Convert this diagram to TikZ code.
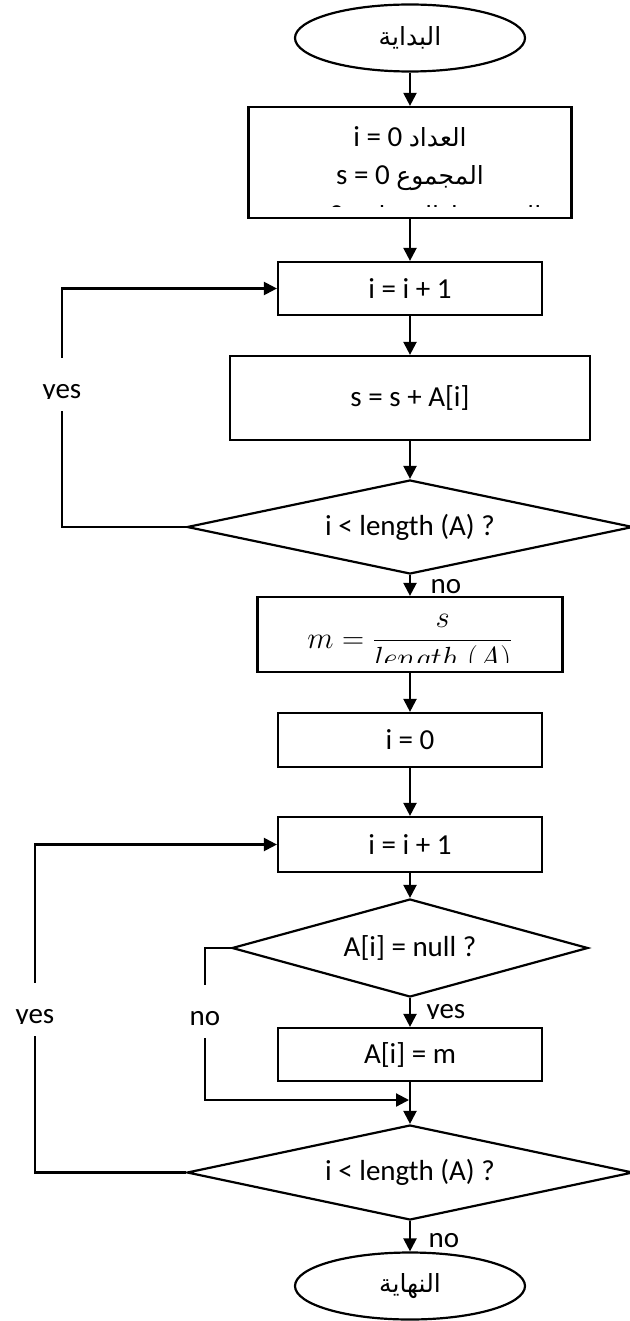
\documentclass[tikz,border=0pt]{standalone}
\usepackage{fontspec}
\setmainfont{Carlito}
\newfontfamily\arabicfont[Script=Arabic]{DejaVu Sans}
\TeXXeTstate=1
\usetikzlibrary{shapes.geometric,arrows.meta}
\newcommand\arabictext[1]{{\arabicfont\fontsize{25pt}{30pt}\selectfont\beginR#1\endR}}

\begin{document}
\begin{tikzpicture}
[x=1pt,y=-1pt,
  font=\fontsize{29pt}{35pt}\selectfont,
  boxdecorate/.style={shape=rectangle,draw,line width=2.2pt},
  diamonddecorate/.style={shape=diamond,aspect=4,inner sep=0pt,draw,line width=2.2pt},
  ovaldecorate/.style={shape=ellipse,inner sep=0pt,draw,line width=2.2pt,
    minimum width=230pt,minimum height=67pt},
  linedecorate/.style={-,line width=2.2pt},
  arrowdecorate/.style={-{Triangle[length=13pt,width=13pt]},line width=2.2pt},
  labeldecorate/.style={anchor=base,inner sep=0pt,text height=40pt,text depth=13pt}]
\useasboundingbox (0,0) rectangle (629,1321);
%% start and end
\node (start) [ovaldecorate] at (410,38) {\arabictext{البداية}};
\node (stop) [ovaldecorate] at (410,1286) {\arabictext{النهاية}};
%% initial values, text cut by the box
\node (init) [boxdecorate,minimum width=323pt,minimum height=111pt] at (410,162.5) {};
\begin{scope}
  \clip ([shift={(5pt,-5pt)}]init.north west) rectangle ([shift={(-5pt,13pt)}]init.south east);
  \foreach \linename/\y/\linetext in {
    initi/147/{i = 0 \arabictext{العداد}},
    inits/185/{s = 0 \arabictext{المجموع}},
    initm/225/{m = 0 \arabictext{المتوسط الحسابي}}}
  {
    \node (\linename) [anchor=base] at (410,\y) {\linetext};
  }
\end{scope}
%% process boxes
\foreach \boxname/\y/\boxwidth/\boxheight/\boxtext in {
  inc1/288.5/264pt/53pt/{i = i + 1},
  sum/398/360pt/84pt/{s = s + A[i]},
  reset/740/264pt/54pt/{i = 0},
  inc2/844.5/264pt/55pt/{i = i + 1},
  assign/1054.5/264pt/53pt/{A[i] = m}}
{
  \node (\boxname) [boxdecorate,minimum width=\boxwidth,minimum height=\boxheight] at (410,\y) {\boxtext};
}
%% mean, text cut by the box
\node (mean) [boxdecorate,minimum width=305pt,minimum height=75pt] at (410,634.5) {};
\begin{scope}
  \clip ([shift={(5pt,-4pt)}]mean.north west) rectangle ([shift={(-5pt,11pt)}]mean.south east);
  \node (meantext) [anchor=base,scale=1.23] at (410,648)
    {$\displaystyle m = \frac{s}{length\ (A)}$};
\end{scope}
%% decisions
\foreach \testname/\y/\testwidth/\testheight/\testtext in {
  test1/527/446pt/94pt/{i < length (A) ?},
  test2/948/356pt/98pt/{A[i] = null ?},
  test3/1172.5/446pt/95pt/{i < length (A) ?}}
{
  \node (\testname) [diamonddecorate,minimum width=\testwidth,minimum height=\testheight] at (410,\y) {\testtext};
}
%% labels, cut at the bottom
\foreach \labelname/\x/\y/\cut/\word in {
  yesone/62/398/0.5/yes, yestwo/35/1023/0.5/yes, noleft/205/1025/0.5/no,
  nomean/446/593/10/no, yesassign/446/1018/0.5/yes, nostop/444/1247/0.5/no}
{
  \begin{scope}
    \clip (\x-50,\y-45) rectangle (\x+50,\y+\cut);
    \node (\labelname) [labeldecorate] at (\x,\y) {\word};
  \end{scope}
}
\coordinate (merge) at (409,1100);
%% main flow
\path
\foreach \startnode/\endnode in {start/init, init/inc1, inc1/sum, sum/test1,
  test1/mean, mean/reset, reset/inc2, inc2/test2, test2/assign, assign/test3,
  test3/stop}
{
  (\startnode) edge[arrowdecorate] (\endnode)
};
%% loops and branches
\draw[linedecorate] (test1.west) -| (yesone.south);
\draw[arrowdecorate] (yesone.north) |- (inc1.west);
\draw[linedecorate] (test3.west) -| (yestwo.south);
\draw[arrowdecorate] (yestwo.north) |- (inc2.west);
\draw[linedecorate] (test2.west) -| (noleft.north);
\draw[arrowdecorate] (noleft.south) |- (merge);
\end{tikzpicture}
\end{document}
